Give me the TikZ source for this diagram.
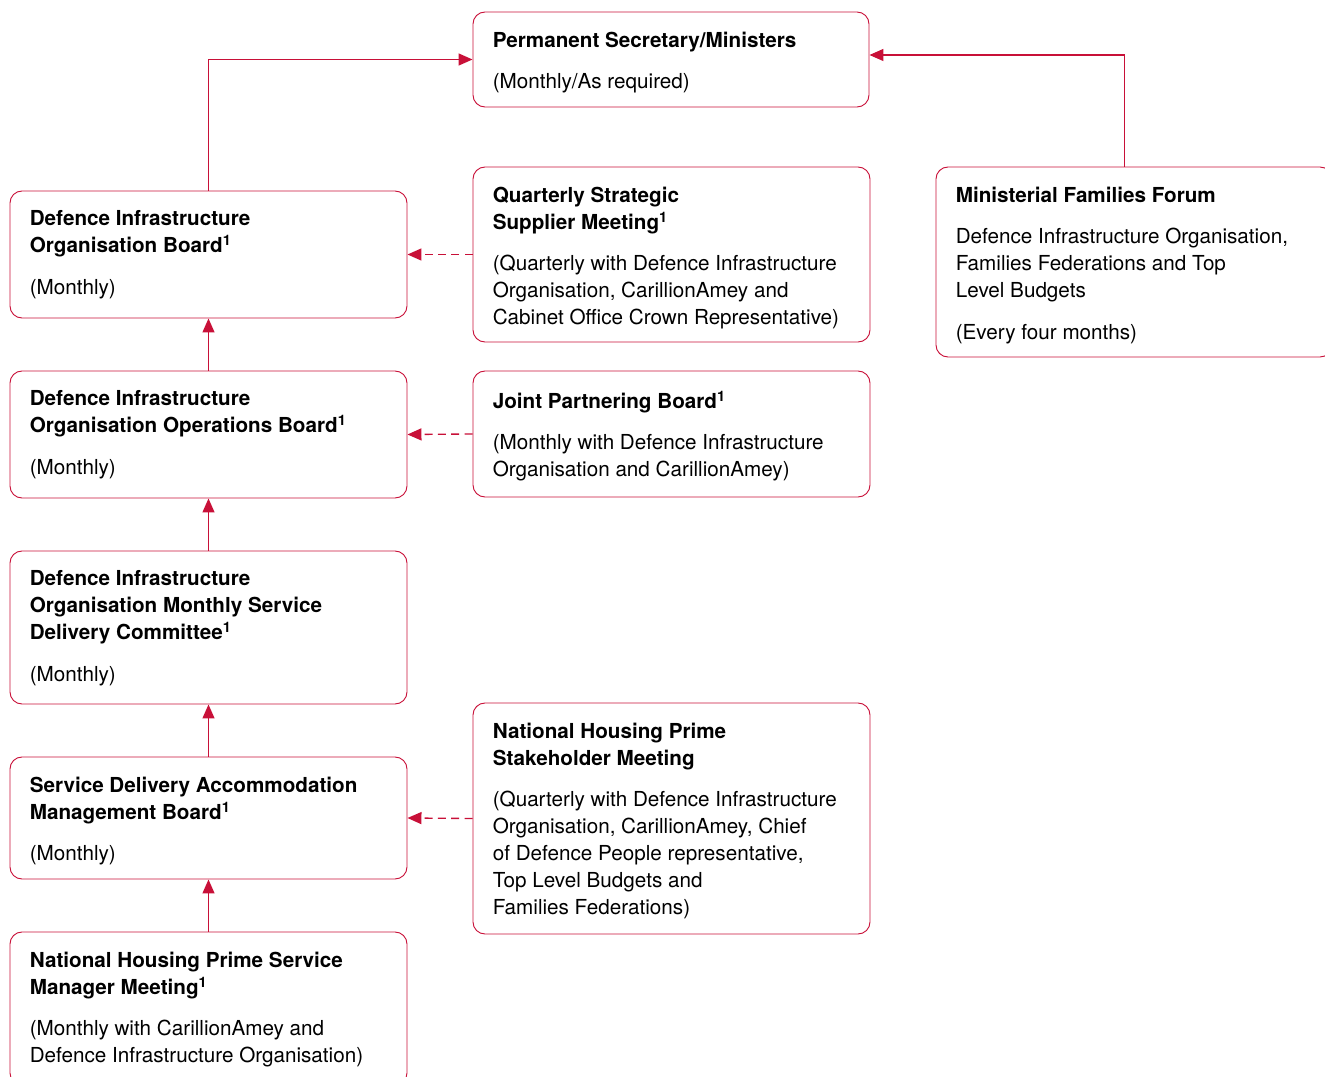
\documentclass[tikz,border=0pt]{standalone}
\usepackage{fontspec}
\setmainfont{TeX Gyre Heros}
\usetikzlibrary{positioning,calc,fit,arrows.meta}
\definecolor{naored}{RGB}{200,16,56}
\newcommand{\fnone}{\textsuperscript{1}}

\begin{document}
\begin{tikzpicture}[x=0.75pt,y=-0.75pt,
	% Node styles
	board/.style={
		rectangle,
		rounded corners=9pt,
		draw=naored,
		line width=0.7pt,
		inner sep=0pt
	},
	boardtext/.style={
		anchor=north west,
		inner sep=0pt,
		align=left,
		font=\fontsize{15.5}{20.25}\selectfont,
		text=black
	},
	arrow/.style={
		-{Triangle[length=10.5pt,width=9pt]},
		line width=1pt,
		color=naored
	},
	dasharrow/.style={
		arrow,
		dash pattern=on 6pt off 4pt
	}
	]
	
	\useasboundingbox (0,0) rectangle (1325,1077);
	
	% Top
	\node[board, fit={(473,12) (869,107)}] (ps) {};
	\node[boardtext] (pstext) at ($(ps.north west)+(20,20)$)
		{\textbf{Permanent Secretary/Ministers}\\[11pt](Monthly/As required)};
	
	% Left column
	\node[board, fit={(10,191) (407,318)}] (dioboard) {};
	\node[boardtext] (dioboardtext) at ($(dioboard.north west)+(20,20)$)
		{\textbf{Defence Infrastructure}\\\textbf{Organisation Board\fnone}\\[11pt](Monthly)};
	
	\node[board, fit={(10,371) (407,498)}] (opsboard) {};
	\node[boardtext] (opsboardtext) at ($(opsboard.north west)+(20,20)$)
		{\textbf{Defence Infrastructure}\\\textbf{Organisation Operations Board\fnone}\\[11pt](Monthly)};
	
	\node[board, fit={(10,551) (407,704)}] (msdc) {};
	\node[boardtext] (msdctext) at ($(msdc.north west)+(20,20)$)
		{\textbf{Defence Infrastructure}\\\textbf{Organisation Monthly Service}\\\textbf{Delivery Committee\fnone}\\[11pt](Monthly)};
	
	\node[board, fit={(10,757) (407,879)}] (sdamb) {};
	\node[boardtext] (sdambtext) at ($(sdamb.north west)+(20,20)$)
		{\textbf{Service Delivery Accommodation}\\\textbf{Management Board\fnone}\\[11pt](Monthly)};
	
	\node[board, fit={(10,932) (407,1085)}] (nhpsm) {};
	\node[boardtext] (nhpsmtext) at ($(nhpsm.north west)+(20,20)$)
		{\textbf{National Housing Prime Service}\\\textbf{Manager Meeting\fnone}\\[11pt](Monthly with CarillionAmey and\\Defence Infrastructure Organisation)};
	
	% Middle column
	\node[board, fit={(473,167) (870,342)}] (qssm) {};
	\node[boardtext] (qssmtext) at ($(qssm.north west)+(20,20)$)
		{\textbf{Quarterly Strategic}\\\textbf{Supplier Meeting\fnone}\\[11pt](Quarterly with Defence Infrastructure\\Organisation, CarillionAmey and\\Cabinet Office Crown Representative)};
	
	\node[board, fit={(473,371) (870,497)}] (jpb) {};
	\node[boardtext] (jpbtext) at ($(jpb.north west)+(20,20)$)
		{\textbf{Joint Partnering Board\fnone}\\[11pt](Monthly with Defence Infrastructure\\Organisation and CarillionAmey)};
	
	\node[board, fit={(473,703) (870,934)}] (nhpstake) {};
	\node[boardtext] (nhpstaketext) at ($(nhpstake.north west)+(20,20)$)
		{\textbf{National Housing Prime}\\\textbf{Stakeholder Meeting}\\[11pt](Quarterly with Defence Infrastructure\\Organisation, CarillionAmey, Chief\\of Defence People representative,\\Top Level Budgets and\\Families Federations)};
	
	% Right column
	\node[board, fit={(936,167) (1332,357)}] (mff) {};
	\node[boardtext] (mfftext) at ($(mff.north west)+(20,20)$)
		{\textbf{Ministerial Families Forum}\\[11pt]Defence Infrastructure Organisation,\\Families Federations and Top\\Level Budgets\\[11pt](Every four months)};
	
	% Upward reporting
	\draw[arrow] (nhpsm.north) -- (sdamb.south);
	\draw[arrow] (sdamb.north) -- (msdc.south);
	\draw[arrow] (msdc.north) -- (opsboard.south);
	\draw[arrow] (opsboard.north) -- (dioboard.south);
	\draw[arrow] (dioboard.north) |- (ps.west);
	
	\coordinate (mffout) at ($(mff.north west)+(189,0)$);
	\coordinate (psin) at ($(ps.east)+(0,-4.5)$);
	\draw[arrow] (mffout) |- (psin);
	
	% Supplier / partner inputs
	\draw[dasharrow] (qssm.west) -- (dioboard.east);
	\draw[dasharrow] (jpb.west) -- (opsboard.east);
	\draw[dasharrow] (nhpstake.west) -- (sdamb.east);
	
\end{tikzpicture}
\end{document}
